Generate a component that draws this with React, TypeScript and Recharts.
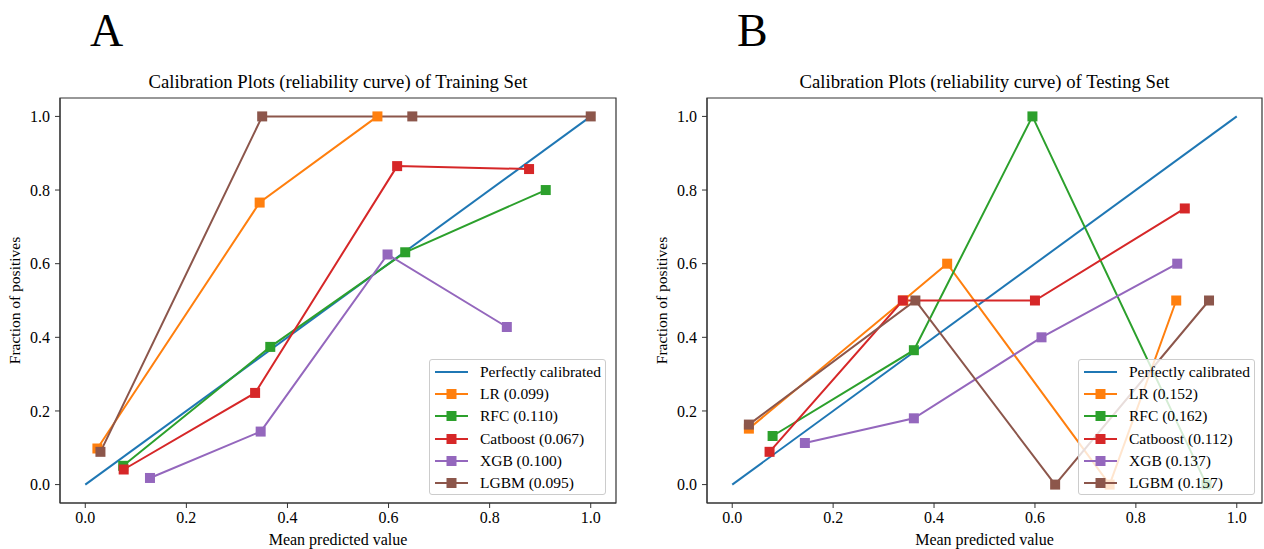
import { LineChart, Line, XAxis, YAxis, Legend, Label, ReferenceArea } from "recharts";

const serif = '"Liberation Serif", "Times New Roman", serif';

const axisTicks = [0, 0.2, 0.4, 0.6, 0.8, 1.0];
const perfectLine = [[0, 0], [1, 1]];

// Training set: [mean predicted value, fraction of positives]
const trainLR = [[0.024, 0.098], [0.345, 0.766], [0.578, 1.0]];
const trainRFC = [[0.075, 0.051], [0.366, 0.374], [0.633, 0.631], [0.911, 0.8]];
const trainCat = [[0.076, 0.041], [0.336, 0.249], [0.617, 0.865], [0.878, 0.857]];
const trainXGB = [[0.128, 0.018], [0.347, 0.144], [0.598, 0.625], [0.834, 0.428]];
const trainLGBM = [[0.03, 0.089], [0.35, 1.0], [0.647, 1.0], [1.0, 1.0]];
const trainNames = ["LR (0.099)", "RFC (0.110)", "Catboost (0.067)", "XGB (0.100)", "LGBM (0.095)"];

// Testing set
const testLR = [[0.033, 0.152], [0.339, 0.5], [0.426, 0.6], [0.748, 0.0], [0.88, 0.5]];
const testRFC = [[0.08, 0.132], [0.36, 0.365], [0.595, 1.0], [0.94, 0.0]];
const testCat = [[0.074, 0.089], [0.338, 0.5], [0.6, 0.5], [0.897, 0.75]];
const testXGB = [[0.144, 0.113], [0.36, 0.18], [0.613, 0.4], [0.882, 0.6]];
const testLGBM = [[0.033, 0.163], [0.363, 0.5], [0.64, 0.0], [0.945, 0.5]];
const testNames = ["LR (0.152)", "RFC (0.162)", "Catboost (0.112)", "XGB (0.137)", "LGBM (0.157)"];

const perfectName = "Perfectly calibrated";
const colors = ["#1f77b4", "#ff7f0e", "#2ca02c", "#d62728", "#9467bd", "#8c564b"];

const toPoints = (pts: number[][]) => pts.map(([x, y]) => ({ x, y }));

const squareDot = (color: string) => (props: any) => {
  const { cx, cy, index } = props;
  if (cx == null || cy == null) return <g key={`e${index}`} />;
  return <rect key={`d${index}`} x={cx - 5} y={cy - 5} width={10} height={10} fill={color} />;
};

const makeLegend = (order: string[]) => (props: any) => {
  const items = [...(props.payload || [])].sort(
    (a: any, b: any) => order.indexOf(a.value) - order.indexOf(b.value)
  );
  return (
    <div
      style={{
        boxSizing: "border-box",
        width: 177,
        height: 136,
        padding: "1px 0",
        border: "1px solid #cccccc",
        borderRadius: 3,
        background: "rgba(255,255,255,0.8)",
        fontFamily: serif,
        fontSize: 15.5,
        color: "#000",
      }}
    >
      {items.map((it: any) => (
        <div key={it.value} style={{ height: 22.2, display: "flex", alignItems: "center", whiteSpace: "nowrap" }}>
          <svg width={50} height={22} style={{ flex: "none" }}>
            <line x1={5} x2={38} y1={11} y2={11} stroke={it.color} strokeWidth={2} />
            {it.value !== perfectName && <rect x={16.5} y={6} width={10} height={10} fill={it.color} />}
          </svg>
          <span>{it.value}</span>
        </div>
      ))}
    </div>
  );
};

type PanelProps = {
  letter: string;
  title: string;
  names: string[];
  series: number[][][];
  left: number;
  width: number;
  marginRight: number;
  legendLeft: number;
};

const Panel = ({ letter, title, names, series, left, width, marginRight, legendLeft }: PanelProps) => {
  const plotW = width - 60 - marginRight;
  const order = [perfectName, ...names];
  return (
    <div style={{ position: "absolute", left, top: 0, width, height: 549 }}>
      <div style={{ position: "absolute", left: 90, top: 8, fontFamily: serif, fontSize: 46, lineHeight: "46px" }}>
        {letter}
      </div>
      <div
        style={{
          position: "absolute",
          left: 60,
          width: plotW,
          top: 72,
          textAlign: "center",
          fontFamily: serif,
          fontSize: 18.7,
          lineHeight: "19px",
          whiteSpace: "nowrap",
        }}
      >
        {title}
      </div>
      <LineChart
        width={width}
        height={549}
        margin={{ top: 98, right: marginRight, bottom: 0, left: 0 }}
        style={{ position: "absolute", left: 0, top: 0, fontFamily: serif }}
      >
        <XAxis
          xAxisId="b"
          dataKey="x"
          type="number"
          domain={[-0.05, 1.05]}
          ticks={axisTicks}
          tickFormatter={(v: number) => v.toFixed(1)}
          height={46}
          tickSize={5}
          tickMargin={4}
          stroke="#333"
          tick={{ fill: "#000", fontSize: 16, fontFamily: serif }}
          allowDataOverflow
        >
          <Label
            content={() => (
              <text x={60 + plotW / 2} y={545} textAnchor="middle" fontSize={16} fontFamily={serif} fill="#000">
                Mean predicted value
              </text>
            )}
          />
        </XAxis>
        <YAxis
          yAxisId="l"
          dataKey="y"
          type="number"
          domain={[-0.05, 1.05]}
          ticks={axisTicks}
          tickFormatter={(v: number) => v.toFixed(1)}
          width={60}
          tickSize={5}
          tickMargin={5}
          stroke="#333"
          tick={{ fill: "#000", fontSize: 16, fontFamily: serif }}
          allowDataOverflow
        >
          <Label
            content={() => (
              <text
                x={14}
                y={300.5}
                transform="rotate(-90 14 300.5)"
                textAnchor="middle"
                dominantBaseline="central"
                fontSize={15.5}
                fontFamily={serif}
                fill="#000"
              >
                Fraction of positives
              </text>
            )}
          />
        </YAxis>
        <ReferenceArea
          xAxisId="b"
          yAxisId="l"
          x1={-0.05}
          x2={1.05}
          y1={-0.05}
          y2={1.05}
          fill="none"
          fillOpacity={0}
          stroke="#333"
          strokeWidth={1.2}
          ifOverflow="visible"
        />
        <Line
          xAxisId="b"
          yAxisId="l"
          data={toPoints(perfectLine)}
          dataKey="y"
          name={perfectName}
          stroke={colors[0]}
          strokeWidth={2}
          dot={false}
          activeDot={false}
          isAnimationActive={false}
        />
        {series.map((pts, i) => (
          <Line
            key={names[i]}
            xAxisId="b"
            yAxisId="l"
            data={toPoints(pts)}
            dataKey="y"
            name={names[i]}
            stroke={colors[i + 1]}
            strokeWidth={2}
            dot={squareDot(colors[i + 1])}
            activeDot={false}
            isAnimationActive={false}
          />
        ))}
        <Legend
          layout="vertical"
          align="center"
          verticalAlign="middle"
          content={makeLegend(order)}
          wrapperStyle={{ left: legendLeft, top: 359, width: 177, height: 136 }}
        />
      </LineChart>
    </div>
  );
};

export default function App() {
  return (
    <div style={{ position: "absolute", left: 0, top: 0, width: 1264, height: 549, background: "#fff", overflow: "hidden" }}>
      <Panel
        letter="A"
        title="Calibration Plots (reliability curve) of Training Set"
        names={trainNames}
        series={[trainLR, trainRFC, trainCat, trainXGB, trainLGBM]}
        left={0}
        width={632}
        marginRight={16}
        legendLeft={429}
      />
      <Panel
        letter="B"
        title="Calibration Plots (reliability curve) of Testing Set"
        names={testNames}
        series={[testLR, testRFC, testCat, testXGB, testLGBM]}
        left={647}
        width={617}
        marginRight={2}
        legendLeft={431}
      />
    </div>
  );
}
